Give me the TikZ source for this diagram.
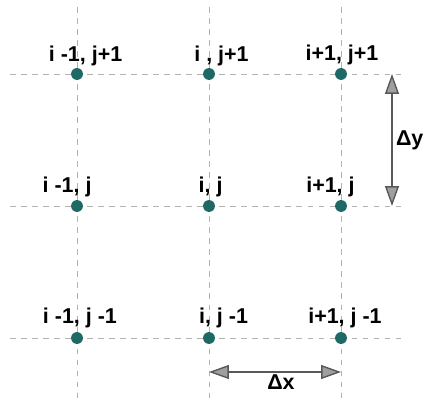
\documentclass[tikz,border=0pt]{standalone}
\usepackage{fontspec}
\setmainfont{Liberation Sans}
\usetikzlibrary{arrows.meta}
\definecolor{dotteal}{RGB}{30,105,102}
\begin{document}
\begin{tikzpicture}
\tikzstyle{ponto}=[circle, minimum size=0.36cm, inner sep=0, fill=dotteal]
\tikzstyle{grade}=[gray!60, line width=0.8pt, dash pattern=on 5pt off 4.5pt]
\tikzstyle{rotulo}=[anchor=base, inner sep=0, font=\fontsize{18.5}{22}\selectfont\bfseries]
\tikzstyle{passo}=[{Triangle[length=0.6cm, width=0.42cm, fill=gray!75]}-{Triangle[length=0.6cm, width=0.42cm, fill=gray!75]}, draw=black!65, line width=1.2pt]
\useasboundingbox (-2.333,-1.970) rectangle (10.545,10.242);
\draw[grade](-2.03,8)--(9.94,8);
\draw[grade](-2.03,4)--(9.94,4);
\draw[grade](-2.03,0)--(9.94,0);
\draw[grade](0,10.03)--(0,-1.97);
\draw[grade](4,10.03)--(4,-1.97);
\draw[grade](8,10.03)--(8,-1.97);
\node[ponto](p11)at(0,8){};
\node[ponto](p21)at(4,8){};
\node[ponto](p31)at(8,8){};
\node[ponto](p12)at(0,4){};
\node[ponto](p22)at(4,4){};
\node[ponto](p32)at(8,4){};
\node[ponto](p13)at(0,0){};
\node[ponto](p23)at(4,0){};
\node[ponto](p33)at(8,0){};
\node[rotulo](r11)at([shift={(0.26,0.37)}]p11){i -1, j+1};
\node[rotulo](r21)at([shift={(0.38,0.37)}]p21){i , j+1};
\node[rotulo](r31)at([shift={(0.03,0.42)}]p31){i+1, j+1};
\node[rotulo](r12)at([shift={(-0.30,0.40)}]p12){i -1, j};
\node[rotulo](r22)at([shift={(0.05,0.40)}]p22){i, j};
\node[rotulo](r32)at([shift={(-0.32,0.40)}]p32){i+1, j};
\node[rotulo](r13)at([shift={(0.09,0.45)}]p13){i -1, j -1};
\node[rotulo](r23)at([shift={(0.44,0.45)}]p23){i, j -1};
\node[rotulo](r33)at([shift={(0.12,0.45)}]p33){i+1, j -1};
\coordinate(dy1)at(9.545,8);
\coordinate(dy2)at(9.545,4);
\coordinate(dx1)at(4,-1.03);
\coordinate(dx2)at(8,-1.03);
\draw[passo](dy1)--(dy2);
\draw[passo](dx1)--(dx2);
\node[rotulo, anchor=west](ly)at(9.66,6){Δy};
\node[rotulo, anchor=north](lx)at(6.18,-1.12){Δx};
\end{tikzpicture}
\end{document}
